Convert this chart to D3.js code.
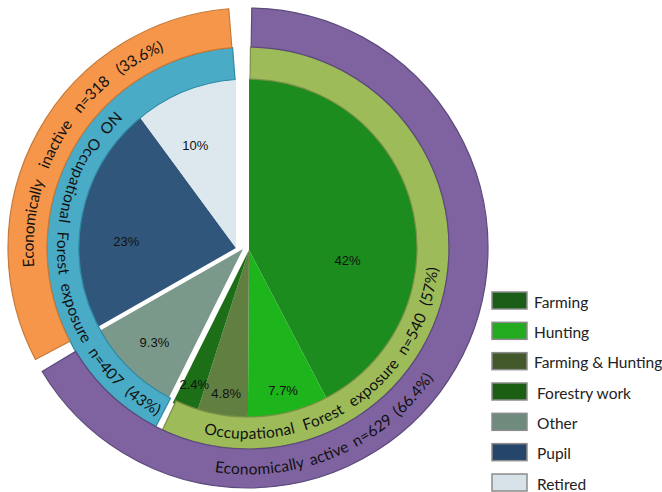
<!DOCTYPE html>
<html>
<head>
<meta charset="utf-8">
<script src="https://cdn.jsdelivr.net/npm/d3@7"></script>
<style>
  body { margin: 0; background: #fff; }
  svg { display: block; }
  .pct { font-family: "Liberation Sans", Arial, sans-serif; font-size: 13px; fill: #111; }
  .ring-text { font-family: Lato, "Open Sans", sans-serif; font-size: 15.5px; fill: #111; }
  .legend text { font-family: Lato, "Open Sans", sans-serif; font-size: 15.5px; fill: #222; }
</style>
</head>
<body>
<svg id="chart" width="662" height="492"></svg>
<script>
// inner pie: occupation categories (share of all respondents, %)
var categories = ["Farming", "Hunting", "Farming & Hunting", "Forestry work", "Other", "Pupil", "Retired"];
var shares = [42, 7.7, 4.8, 2.4, 9.3, 23, 10];
var sides = ["active", "active", "active", "active", "other", "inactive", "inactive"];

// middle ring: forest exposure
var exposureGroups = ["Occupational  Forest  exposure  n=540  (57%)", "NO  Occupational  Forest  exposure  n=407  (43%)"];
var exposureShares = [57, 43];

// outer ring: economic activity
var activityGroups = ["Economically active n=629 (66.4%)", "Economically  inactive  n=318  (33.6%)"];
var activityShares = [66.4, 33.6];

var wedgeColors = ["#1b8c1d", "#1db41c", "#607f41", "#1c6e17", "#7b998b", "#30577b", "#dde8ee"];
var legendColors = ["#1a5e17", "#22ab1e", "#43582b", "#1c5e14", "#6e8b7d", "#25466a", "#d7e3e8"];
var exposureColors = ["#9dbb59", "#4aabc6"];
var exposureStrokes = ["#7a8f47", "#2f89a3"];
var activityColors = ["#7f63a1", "#f5964a"];
var activityStrokes = ["#5c4a7c", "#c77a38"];

var svg = d3.select("#chart");
var rad = function(deg) { return deg * Math.PI / 180; };

// the pie is drawn "exploded": each side has its own centre
var centers = { active: [249, 250], other: [243, 249], inactive: [236, 248] };
var ringCenter = [248, 248];
var r0 = 169, r1 = 201, r2 = 240;

var pie = d3.pie().sort(null).value(function(d) { return d; });

// ---- inner wedges
var innerArc = d3.arc().innerRadius(0).outerRadius(171);
var inner = pie(shares);

svg.append("g").selectAll("path")
   .data(inner)
   .enter().append("path")
   .attr("transform", function(d, i) { var c = centers[sides[i]]; return "translate(" + c[0] + "," + c[1] + ")"; })
   .attr("d", innerArc)
   .style("fill", function(d, i) { return wedgeColors[i]; });

// ---- rings (left side is trimmed a little at both ends, leaving white gaps)
function trim(d, a, b) {
   return { data: d.data, startAngle: d.startAngle + rad(a), endAngle: d.endAngle - rad(b) };
}
var expPads = [[0.7, 0], [2.1, 4.4]];
var actPads = [[0.9, 0], [3.3, 4.6]];

var midArc = d3.arc().innerRadius(r0).outerRadius(r1);
var outerArc = d3.arc().innerRadius(r1).outerRadius(r2);

var rings = svg.append("g").attr("transform", "translate(" + ringCenter[0] + "," + ringCenter[1] + ")");

rings.selectAll(".exp")
   .data(pie(exposureShares).map(function(d, i) { return trim(d, expPads[i][0], expPads[i][1]); }))
   .enter().append("path")
   .attr("class", "exp")
   .attr("d", midArc)
   .style("fill", function(d, i) { return exposureColors[i]; })
   .style("stroke", function(d, i) { return exposureStrokes[i]; })
   .style("stroke-width", 1.2);

rings.selectAll(".act")
   .data(pie(activityShares).map(function(d, i) { return trim(d, actPads[i][0], actPads[i][1]); }))
   .enter().append("path")
   .attr("class", "act")
   .attr("d", outerArc)
   .style("fill", function(d, i) { return activityColors[i]; })
   .style("stroke", function(d, i) { return activityStrokes[i]; })
   .style("stroke-width", 1.2);

// ---- percentage labels
function labelRadius(v) {
   if (v < 9) return 145;
   if (v < 10) return 129;
   if (v < 30) return 110;
   return 99;
}
function labelAngle(d) {
   var f = d.value > 30 ? 0.63 : (d.value >= 10 ? 0.4 : 0.5);
   return d.startAngle + (d.endAngle - d.startAngle) * f;
}
svg.append("g").selectAll("text")
   .data(inner)
   .enter().append("text")
   .attr("class", "pct")
   .attr("text-anchor", "middle")
   .attr("dy", ".35em")
   .attr("x", function(d, i) { return centers[sides[i]][0] + labelRadius(d.value) * Math.sin(labelAngle(d)); })
   .attr("y", function(d, i) { return centers[sides[i]][1] - labelRadius(d.value) * Math.cos(labelAngle(d)); })
   .text(function(d) { return d.value + "%"; });

// ---- curved ring texts: [text, radius, from deg, to deg] (clockwise from top)
var ringTexts = [
   [activityGroups[1], (r1 + r2) / 2, 265, 337],
   [exposureGroups[1], (r0 + r1) / 2, 316, 208.5],
   [exposureGroups[0], (r0 + r1) / 2, 193.5, 96],
   [activityGroups[0], (r1 + r2) / 2, 188.5, 125]
];

var defs = svg.append("defs");
ringTexts.forEach(function(t, i) {
   var p = d3.path();
   p.arc(ringCenter[0], ringCenter[1], t[1], rad(t[2] - 90), rad(t[3] - 90), t[3] < t[2]);
   defs.append("path").attr("id", "rt" + i).attr("d", p.toString());

   var txt = svg.append("text")
      .attr("class", "ring-text")
      .attr("dominant-baseline", "central")
      .style("white-space", "pre");
   txt.append("textPath")
      .attr("href", "#rt" + i)
      .attr("startOffset", "50%")
      .attr("text-anchor", "middle")
      .text(t[0]);

   // spread the words so the label fills the measured arc
   var target = t[1] * Math.abs(rad(t[3] - t[2]));
   var natural = txt.node().getComputedTextLength();
   var gaps = (t[0].match(/ /g) || []).length;
   var ws = Math.max(0, (target - natural) / gaps);
   txt.style("word-spacing", ws + "px");
});

// ---- legend
var ly = d3.scalePoint().domain(categories).range([292, 474]);
var lg = svg.append("g").attr("class", "legend").selectAll("g")
   .data(categories)
   .enter().append("g")
   .attr("transform", function(d) { return "translate(492," + ly(d) + ")"; });

lg.append("rect")
   .attr("width", 35)
   .attr("height", 17)
   .style("fill", function(d, i) { return legendColors[i]; })
   .style("stroke", "#8c8c8c")
   .style("stroke-width", 1.5);

lg.append("text")
   .attr("x", function(d, i) { return i < 3 ? 42 : 45; })
   .attr("y", 9.5)
   .attr("dominant-baseline", "central")
   .text(function(d) { return d; });
</script>
</body>
</html>
